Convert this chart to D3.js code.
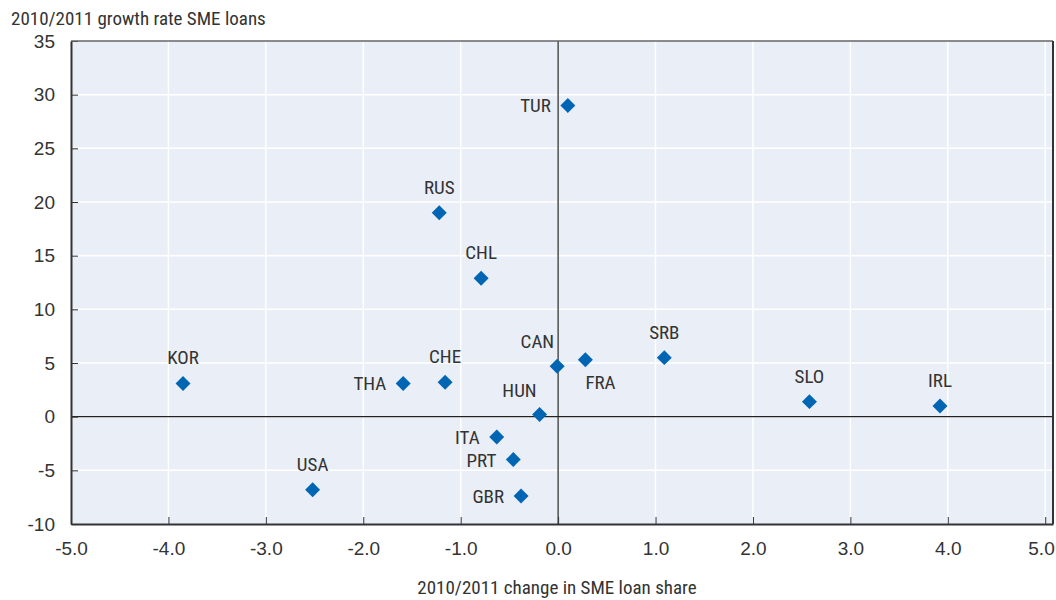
<!DOCTYPE html>
<html>
<head>
<meta charset="utf-8">
<script src="https://cdn.jsdelivr.net/npm/d3@7"></script>
<style>
  body { margin: 0; background: #fff; }
  text { font-family: "Liberation Sans Narrow", "Arial Narrow", "Roboto Condensed", sans-serif; fill: #333; }
</style>
</head>
<body>
<div id="chart"></div>
<script>
//data to display
const countries = ['TUR', 'RUS', 'CHL', 'KOR', 'THA', 'CHE', 'CAN', 'FRA', 'HUN', 'ITA', 'PRT', 'GBR', 'SRB', 'SLO', 'IRL', 'USA'];
const loanShareChange = [0.1, -1.22, -0.79, -3.85, -1.59, -1.16, -0.01, 0.28, -0.19, -0.63, -0.46, -0.38, 1.09, 2.58, 3.92, -2.52];
const growthRate = [29.0, 19.0, 12.9, 3.1, 3.1, 3.2, 4.7, 5.3, 0.2, -1.9, -4.0, -7.4, 5.5, 1.4, 1.0, -6.8];
// where the label sits relative to its marker
const labelPos = ['left', 'above', 'above', 'above', 'left', 'above', 'aboveLeft', 'belowRight', 'aboveLeft', 'left', 'left', 'left', 'above', 'above', 'above', 'above'];

const xTicks = [-5, -4, -3, -2, -1, 0, 1, 2, 3, 4, 5];
const yTicks = [-10, -5, 0, 5, 10, 15, 20, 25, 30, 35];

//Measures
const width = 1056;
const height = 600;
const margin = {left: 71, right: 3, top: 41, bottom: 76};
const fontSize = 19;

//Colors
const plotBg = '#e9eef7';
const gridColor = '#ffffff';
const axisColor = '#333333';
const markerColor = '#0066b3';

const svg = d3.select('#chart').append('svg')
    .attr('width', width)
    .attr('height', height);

const x = d3.scaleLinear().domain([-5, 5.08]).range([margin.left, width - margin.right]);
const y = d3.scaleLinear().domain([-10, 35]).range([height - margin.bottom, margin.top]);

// hyphen instead of unicode minus, like the original
const hyphen = s => s.replace('\u2212', '-');

// plot background
svg.append('rect')
    .attr('x', x(-5)).attr('y', y(35))
    .attr('width', x(5.08) - x(-5)).attr('height', y(-10) - y(35))
    .attr('fill', plotBg);

// grid lines
svg.append('g').selectAll('line').data(xTicks.slice(1)).join('line')
    .attr('x1', d => x(d)).attr('x2', d => x(d))
    .attr('y1', y(35)).attr('y2', y(-10))
    .attr('stroke', gridColor).attr('stroke-width', 1.5);
svg.append('g').selectAll('line').data(yTicks.slice(1, -1)).join('line')
    .attr('x1', x(-5)).attr('x2', x(5.08))
    .attr('y1', d => y(d)).attr('y2', d => y(d))
    .attr('stroke', gridColor).attr('stroke-width', 1.5);

// zero lines
svg.append('line')
    .attr('x1', x(0)).attr('x2', x(0)).attr('y1', y(35)).attr('y2', y(-10))
    .attr('stroke', '#222').attr('stroke-width', 1.2);
svg.append('line')
    .attr('x1', x(-5)).attr('x2', x(5.08)).attr('y1', y(0)).attr('y2', y(0))
    .attr('stroke', '#222').attr('stroke-width', 1.2);

// axes
const xAxis = svg.append('g')
    .attr('transform', `translate(0,${y(-10)})`)
    .call(d3.axisBottom(x).tickValues(xTicks).tickFormat(d => hyphen(d3.format('.1f')(d)))
        .tickSizeInner(-7).tickSizeOuter(0).tickPadding(18));
const yAxis = svg.append('g')
    .attr('transform', `translate(${x(-5)},0)`)
    .call(d3.axisLeft(y).tickValues(yTicks).tickFormat(d => hyphen(d3.format('d')(d)))
        .tickSizeInner(-7).tickSizeOuter(0).tickPadding(16));

[xAxis, yAxis].forEach(a => {
    a.select('.domain').attr('stroke', axisColor).attr('stroke-width', 2);
    a.selectAll('.tick line').attr('stroke', axisColor);
    a.selectAll('.tick text').attr('font-size', fontSize).attr('fill', '#333')
        .style('font-family', '"Liberation Sans Narrow", "Arial Narrow", sans-serif');
});
// keep the last x label inside the page
xAxis.selectAll('.tick text').filter(d => d === 5)
    .attr('text-anchor', 'end').attr('x', 9);

// top and right border
svg.append('line')
    .attr('x1', x(-5)).attr('x2', x(5.08)).attr('y1', y(35)).attr('y2', y(35))
    .attr('stroke', '#666').attr('stroke-width', 1.5);
svg.append('line')
    .attr('x1', x(5.08)).attr('x2', x(5.08)).attr('y1', y(35)).attr('y2', y(-10))
    .attr('stroke', axisColor).attr('stroke-width', 2);

// points
const points = countries.map((c, i) => ({
    name: c, x: loanShareChange[i], y: growthRate[i], pos: labelPos[i]
}));

svg.append('g').selectAll('path').data(points).join('path')
    .attr('d', d3.symbol().type(d3.symbolSquare).size(112))
    .attr('transform', d => `translate(${x(d.x)},${y(d.y)}) rotate(45)`)
    .attr('fill', markerColor);

const offsets = {
    above: {dx: 0, dy: -19, anchor: 'middle'},
    left: {dx: -17, dy: 7, anchor: 'end'},
    aboveLeft: {dx: -3, dy: -18, anchor: 'end'},
    belowRight: {dx: 0, dy: 29, anchor: 'start'}
};

svg.append('g').selectAll('text').data(points).join('text')
    .attr('x', d => x(d.x) + offsets[d.pos].dx)
    .attr('y', d => y(d.y) + offsets[d.pos].dy)
    .attr('text-anchor', d => offsets[d.pos].anchor)
    .attr('font-size', fontSize)
    .text(d => d.name);

// axis titles
svg.append('text')
    .attr('x', 11).attr('y', 25)
    .attr('font-size', fontSize)
    .text('2010/2011 growth rate SME loans');
svg.append('text')
    .attr('x', 557).attr('y', 594)
    .attr('text-anchor', 'middle')
    .attr('font-size', fontSize)
    .text('2010/2011 change in SME loan share');
</script>
</body>
</html>
